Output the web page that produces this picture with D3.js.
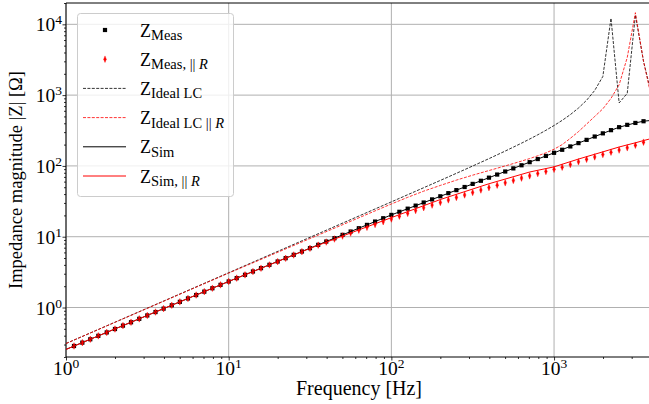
<!DOCTYPE html>
<html>
<head>
<meta charset="utf-8">
<script src="https://cdn.jsdelivr.net/npm/d3@7"></script>
<style>
  body { margin: 0; background: #fff; }
  svg { display: block; font-family: "Liberation Serif", "Times New Roman", serif; }
</style>
</head>
<body>
<div id="chart"></div>
<script>
// measured points (Hz / Ohm)
const measFreq = [1.12, 1.26, 1.41, 1.58, 1.78, 2.00, 2.24, 2.51, 2.82, 3.16, 3.55, 3.98, 4.47, 5.01, 5.62, 6.31, 7.08, 7.94, 8.91,
    10.0, 11.2, 12.6, 14.1, 15.8, 17.8, 20.0, 22.4, 25.1, 28.2, 31.6, 35.5, 39.8, 44.7, 50.1, 56.2, 63.1, 70.8, 79.4, 89.1,
    100, 112, 126, 141, 158, 178, 200, 224, 251, 282, 316, 355, 398, 447, 501, 562, 631, 708, 794, 891,
    1000, 1122, 1259, 1413, 1585, 1778, 1995, 2239, 2512, 2818, 3162, 3548];
const measZ = [0.286, 0.319, 0.356, 0.398, 0.445, 0.497, 0.555, 0.619, 0.692, 0.773, 0.863, 0.964, 1.076, 1.202, 1.343, 1.500, 1.675, 1.871, 2.089,
    2.333, 2.600, 2.897, 3.228, 3.597, 4.009, 4.467, 4.977, 5.546, 6.180, 6.887, 7.674, 8.551, 9.528, 10.62, 11.83, 13.18, 14.69, 16.37, 18.24,
    20.32, 22.49, 24.89, 27.48, 30.41, 33.65, 37.24, 41.21, 45.50, 50.35, 55.72, 61.66, 68.23, 75.51, 83.37, 92.25, 102.1, 113.0, 125.0, 138.4,
    153.1, 169.0, 188.4, 209.9, 233.3, 260.0, 288.4, 319.9, 352.4, 380.2, 404.6, 427.6];
const measZpar = [0.286, 0.319, 0.356, 0.398, 0.445, 0.497, 0.555, 0.619, 0.692, 0.773, 0.863, 0.964, 1.076, 1.202, 1.343, 1.500, 1.675, 1.871, 2.089,
    2.333, 2.598, 2.893, 3.221, 3.587, 3.995, 4.446, 4.955, 5.521, 6.152, 6.855, 7.603, 8.414, 9.290, 10.23, 11.27, 12.39, 13.58, 14.89, 16.29,
    17.78, 19.50, 21.38, 23.44, 25.70, 27.99, 30.48, 33.11, 35.89, 38.90, 42.17, 45.71, 49.43, 53.46, 57.81, 62.37, 67.30, 72.44, 77.98, 83.56,
    89.54, 95.94, 104.7, 114.3, 123.9, 134.0, 144.9, 156.3, 167.5, 180.3, 195.9, 216.3];

// simulated curves
const simFreq = [1, 3.16, 10, 31.6, 100, 200, 398, 708, 1000, 1413, 1995, 2512, 3162, 3548, 4000];
const simZ = [0.256, 0.773, 2.333, 6.887, 20.32, 37.2, 68.2, 113, 153, 210, 288, 352, 405, 428, 440];
const simZpar = [0.256, 0.773, 2.333, 6.85, 18.6, 33.5, 56, 82, 97, 125, 158, 185, 212, 228, 245];

// ideal LC model
const idealFreq = [1, 10, 100, 126, 158, 200, 251, 316, 398, 501, 562, 631, 708, 794, 891,
    1000, 1122, 1259, 1413, 1585, 1778, 1995, 2239, 2512, 2818, 3162, 3548, 3981];
const idealZ = [0.31, 3.1, 31.05, 39.2, 49.2, 62.4, 78.6, 99.6, 126.7, 162.1, 184.2, 209.5, 239.5, 275, 318.4,
    372, 440, 530, 657, 846, 1164, 1835, 12150, 776, 1060, 13500, 3000, 1000];
const idealZpar = [0.31, 3.06, 29, 36, 44, 53, 63, 74, 86, 100, 108, 117, 127, 139, 153,
    172, 200, 245, 305, 390, 500, 640, 900, 1400, 3400, 14600, 3000, 900];

const xTickValues = [1, 10, 100, 1000];
const xTickExp = ["0", "1", "2", "3"];
const yTickValues = [1, 10, 100, 1000, 10000];
const yTickExp = ["0", "1", "2", "3", "4"];

const legendSubs = [["Meas", ""], ["Meas, || ", "R"], ["Ideal LC", ""], ["Ideal LC || ", "R"], ["Sim", ""], ["Sim, || ", "R"]];

const width = 649, height = 404;
const plot = { left: 66, right: 652, top: 3, bottom: 357 };
const RED = "#ff0000";

const svg = d3.select("#chart").append("svg")
    .attr("width", width)
    .attr("height", height);

svg.append("rect").attr("width", width).attr("height", height).attr("fill", "#fff");

const x = d3.scaleLog().domain([1, 4000]).range([plot.left, plot.right]);
const y = d3.scaleLog().domain([0.2, 20000]).range([plot.bottom, plot.top]);

svg.append("defs").append("clipPath").attr("id", "clip")
    .append("rect")
    .attr("x", plot.left).attr("y", plot.top)
    .attr("width", plot.right - plot.left).attr("height", plot.bottom - plot.top);

// grid
const grid = svg.append("g").attr("stroke", "#b0b0b0").attr("stroke-width", 1);
xTickValues.forEach(v => {
    grid.append("line")
        .attr("x1", x(v)).attr("x2", x(v))
        .attr("y1", plot.top).attr("y2", plot.bottom);
});
yTickValues.forEach(v => {
    grid.append("line")
        .attr("x1", plot.left).attr("x2", plot.right)
        .attr("y1", y(v)).attr("y2", y(v));
});

// axes ticks
const xMinor = x.ticks().filter(v => !xTickValues.includes(v));
const yMinor = y.ticks().filter(v => !yTickValues.some(t => Math.abs(t - v) < 1e-9));

svg.append("g").attr("transform", `translate(0,${plot.bottom})`)
    .call(d3.axisBottom(x).tickValues(xTickValues).tickSize(3.5).tickFormat(""));
svg.append("g").attr("transform", `translate(0,${plot.bottom})`)
    .call(d3.axisBottom(x).tickValues(xMinor).tickSize(2).tickFormat(""));
svg.append("g").attr("transform", `translate(${plot.left},0)`)
    .call(d3.axisLeft(y).tickValues(yTickValues).tickSize(3.5).tickFormat(""));
svg.append("g").attr("transform", `translate(${plot.left},0)`)
    .call(d3.axisLeft(y).tickValues(yMinor).tickSize(2).tickFormat(""));
svg.selectAll(".domain").remove();
svg.selectAll(".tick line").attr("stroke", "#000").attr("stroke-width", 0.8);

xTickValues.forEach((v, i) => {
    const t = svg.append("text")
        .attr("x", x(v)).attr("y", plot.bottom + 18)
        .attr("text-anchor", "middle")
        .attr("font-size", 19.5);
    t.append("tspan").text("10");
    t.append("tspan").attr("font-size", 13.5).attr("dy", -7).text(xTickExp[i]);
});
yTickValues.forEach((v, i) => {
    const t = svg.append("text")
        .attr("x", plot.left - 4).attr("y", y(v) + 7)
        .attr("text-anchor", "end")
        .attr("font-size", 19.5);
    t.append("tspan").text("10");
    t.append("tspan").attr("font-size", 13.5).attr("dy", -7).text(yTickExp[i]);
});

// spines
svg.append("line").attr("x1", plot.left).attr("x2", plot.right).attr("y1", plot.bottom).attr("y2", plot.bottom)
    .attr("stroke", "#000").attr("stroke-width", 1);
svg.append("line").attr("x1", plot.left).attr("x2", plot.right).attr("y1", plot.top).attr("y2", plot.top)
    .attr("stroke", "#000").attr("stroke-width", 1);
svg.append("line").attr("x1", plot.left).attr("x2", plot.left).attr("y1", plot.top).attr("y2", plot.bottom)
    .attr("stroke", "#000").attr("stroke-width", 1);

// axis labels
svg.append("text")
    .attr("x", (plot.left + plot.right) / 2).attr("y", 395)
    .attr("text-anchor", "middle").attr("font-size", 20)
    .text("Frequency [Hz]");
svg.append("text")
    .attr("transform", `translate(22,${(plot.top + plot.bottom) / 2}) rotate(-90)`)
    .attr("text-anchor", "middle").attr("font-size", 18.5)
    .text("Impedance magnitude |Z| [Ω]");

// data
const g = svg.append("g").attr("clip-path", "url(#clip)");
const line = d3.line().x(d => x(d[0])).y(d => y(d[1]));
const diamond = "M0,-3.3L1.3,0L0,3.3L-1.3,0Z";

g.selectAll(".meas").data(d3.zip(measFreq, measZ)).enter().append("rect")
    .attr("x", d => x(d[0]) - 2.1).attr("y", d => y(d[1]) - 2.1)
    .attr("width", 4.2).attr("height", 4.2)
    .attr("fill", "#000");

g.selectAll(".measpar").data(d3.zip(measFreq, measZpar)).enter().append("path")
    .attr("transform", d => `translate(${x(d[0])},${y(d[1])})`)
    .attr("d", diamond)
    .attr("fill", RED).attr("stroke", RED).attr("stroke-width", 0.4);

g.append("path").datum(d3.zip(idealFreq, idealZ)).attr("d", line)
    .attr("fill", "none").attr("stroke", "#000").attr("stroke-width", 0.8)
    .attr("stroke-dasharray", "3,1.4");
g.append("path").datum(d3.zip(idealFreq, idealZpar)).attr("d", line)
    .attr("fill", "none").attr("stroke", RED).attr("stroke-width", 0.8)
    .attr("stroke-dasharray", "3,1.4");
g.append("path").datum(d3.zip(simFreq, simZ)).attr("d", line)
    .attr("fill", "none").attr("stroke", "#000").attr("stroke-width", 1);
g.append("path").datum(d3.zip(simFreq, simZpar)).attr("d", line)
    .attr("fill", "none").attr("stroke", RED).attr("stroke-width", 1);

// legend
const legend = svg.append("g");
legend.append("rect")
    .attr("x", 77.5).attr("y", 13.5).attr("width", 156).attr("height", 183).attr("rx", 3)
    .attr("fill", "#fff").attr("fill-opacity", 0.8)
    .attr("stroke", "#cccccc").attr("stroke-width", 1);

legendSubs.forEach((s, i) => {
    const cy = 30 + i * 29.2;
    const hx0 = 83, hx1 = 126, hc = 105;
    if (i === 0) {
        legend.append("rect").attr("x", hc - 2.1).attr("y", cy - 2.1).attr("width", 4.2).attr("height", 4.2).attr("fill", "#000");
    } else if (i === 1) {
        legend.append("path").attr("transform", `translate(${hc},${cy})`).attr("d", diamond)
            .attr("fill", RED).attr("stroke", RED).attr("stroke-width", 0.4);
    } else {
        legend.append("line").attr("x1", hx0).attr("x2", hx1).attr("y1", cy).attr("y2", cy)
            .attr("stroke", i % 2 === 0 ? "#000" : RED)
            .attr("stroke-width", i < 4 ? 0.8 : 1)
            .attr("stroke-dasharray", i < 4 ? "3,1.4" : null);
    }
    const t = legend.append("text").attr("x", 140).attr("y", cy + 6.5).attr("font-size", 18);
    t.append("tspan").text("Z");
    t.append("tspan").attr("font-size", 14.5).attr("dy", 3.5).text(s[0]);
    if (s[1]) t.append("tspan").attr("font-size", 14.5).attr("font-style", "italic").text(s[1]);
});
</script>
</body>
</html>
